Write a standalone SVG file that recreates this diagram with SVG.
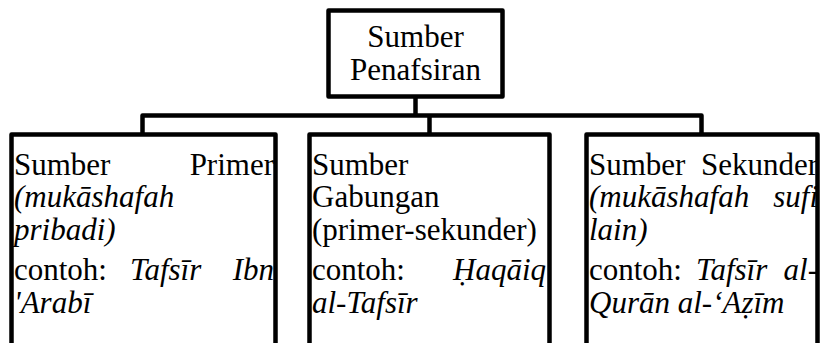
<svg xmlns="http://www.w3.org/2000/svg" width="822" height="343" viewBox="0 0 822 343" font-family="'Liberation Serif', 'DejaVu Serif', serif">
<style>
.box{fill:#fff;stroke:#000;stroke-width:4.5;stroke-linejoin:round}
.con{fill:none;stroke:#000;stroke-width:4.5;stroke-linejoin:round}
.t{font-family:'Liberation Serif','DejaVu Serif',serif;font-size:31px;fill:#000}
.i{font-style:italic}
.c{text-anchor:middle}
.e{text-anchor:end}
</style>
<rect width="822" height="343" fill="#fff"/>
<g id="connectors">
<path class="con" d="M415.5 96.5V115.5"/>
<path class="con" d="M142.5 134.5V115.5H701.5V134.5"/>
<path class="con" d="M429.5 115.5V134.5"/>
</g>
<g id="root" class="t" font-family="'Liberation Serif', serif" font-size="31">
<rect class="box" x="328.5" y="10.5" width="174" height="86"/>
<text class="c" x="415.5" y="47">Sumber</text>
<text class="c" x="415.5" y="80">Penafsiran</text>
</g>
<g id="primer" class="t" font-family="'Liberation Serif', serif" font-size="31">
<rect class="box" x="11.5" y="134.5" width="264" height="230"/>
<text x="14" y="175">Sumber</text>
<text class="e" x="274" y="175">Primer</text>
<text class="i" x="14" y="207">(mukāshafah</text>
<text class="i" x="14" y="240">pribadi)</text>
<text x="14" y="280">contoh:</text>
<text class="i" x="130" y="280">Tafsīr</text>
<text class="i e" x="274" y="280">Ibn</text>
<text class="i" x="14" y="313">'Arabī</text>
</g>
<g id="gabungan" class="t" font-family="'Liberation Serif', serif" font-size="31">
<rect class="box" x="309.5" y="134.5" width="240" height="230"/>
<text x="312" y="175">Sumber</text>
<text x="312" y="207">Gabungan</text>
<text x="312" y="240">(primer-sekunder)</text>
<text x="312" y="280">contoh:</text>
<text class="i e" x="546" y="280">Ḥaqāiq</text>
<text class="i" x="312" y="313">al-Tafsīr</text>
</g>
<g id="sekunder" class="t" font-family="'Liberation Serif', serif" font-size="31">
<rect class="box" x="586.5" y="134.5" width="231" height="230"/>
<text x="589" y="175">Sumber</text>
<text class="e" x="818" y="175">Sekunder</text>
<text class="i" x="589" y="207">(mukāshafah</text>
<text class="i e" x="818" y="207">sufi</text>
<text class="i" x="589" y="240">lain)</text>
<text x="589" y="280">contoh:</text>
<text class="i" x="696" y="280">Tafsīr</text>
<text class="i e" x="818" y="280">al-</text>
<text class="i" x="589" y="313">Qurān al-‘Aẓīm</text>
</g>
</svg>
